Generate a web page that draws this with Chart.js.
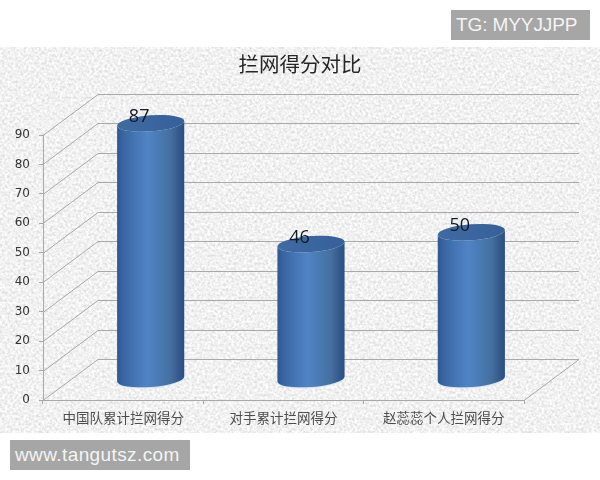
<!DOCTYPE html>
<html>
<head>
<meta charset="utf-8">
<script src="https://cdn.jsdelivr.net/npm/chart.js@4/dist/chart.umd.min.js"></script>
<style>
  html, body { margin: 0; padding: 0; background: #fff; }
  #page { position: relative; width: 600px; height: 480px; overflow: hidden; }
  #paper {
    position: absolute; left: 0; top: 47px; width: 600px; height: 386px;
    background-color: #e2e2e2;
    background-image: url("data:image/svg+xml,%3Csvg xmlns='http://www.w3.org/2000/svg' width='600' height='386'%3E%3Cfilter id='n' x='0' y='0' width='100%25' height='100%25'%3E%3CfeTurbulence type='fractalNoise' baseFrequency='0.38' numOctaves='3' seed='7'/%3E%3CfeColorMatrix values='0.5 0 0 0 0.63 0.5 0 0 0 0.63 0.5 0 0 0 0.63 0 0 0 0 1'/%3E%3C/filter%3E%3Crect width='600' height='386' filter='url(%23n)'/%3E%3C/svg%3E");
  }
  canvas { position: absolute; left: 0; top: 0; }
  .tag {
    position: absolute; background: #a6a6a6; color: #f4f4f4;
    font-family: "Liberation Sans", sans-serif; font-size: 19px; line-height: 30px; white-space: nowrap;
  }
</style>
</head>
<body>
<div id="page">
  <div id="paper"></div>
  <canvas id="chart" width="600" height="480"></canvas>
  <div class="tag" style="left:451px;top:10px;width:134px;height:30px;padding-left:5px;letter-spacing:-0.1px;">TG: MYYJJPP</div>
  <div class="tag" style="left:10px;top:440px;width:175px;height:30px;padding-left:5px;letter-spacing:0.4px;">www.tangutsz.com</div>
</div>
<script>
const categories = ["中国队累计拦网得分", "对手累计拦网得分", "赵蕊蕊个人拦网得分"];
const scores = [87, 46, 50];
const chartTitle = "拦网得分对比";

// depth of the fake 3d box, in pixels
const depthX = 55;
const depthY = 41;
const gridColor = "#a9a9a9";

// back wall, floor, slanted lines on the left side, and the title
const box3d = {
  id: "box3d",
  beforeDatasetsDraw(chart) {
    const { ctx, scales, chartArea } = chart;
    const yScale = scales.y;
    ctx.save();
    ctx.strokeStyle = gridColor;
    ctx.lineWidth = 1;
    yScale.ticks.forEach((tick, i) => {
      const y = Math.round(yScale.getPixelForTick(i)) + 0.5;
      ctx.beginPath();
      ctx.moveTo(chartArea.left, y);
      ctx.lineTo(chartArea.left + depthX, y - depthY);
      ctx.lineTo(chartArea.right + depthX, y - depthY);
      ctx.stroke();
    });
    const bottom = Math.round(chartArea.bottom) + 0.5;
    ctx.beginPath();
    ctx.moveTo(chartArea.right, bottom);
    ctx.lineTo(chartArea.right + depthX, bottom - depthY);
    ctx.stroke();

    // the title sits on the page centre, not the plot centre
    ctx.fillStyle = "#262626";
    ctx.font = '20.5px "Noto Sans CJK SC"';
    ctx.textAlign = "center";
    ctx.textBaseline = "middle";
    ctx.fillText(chartTitle, 300, 64);
    ctx.restore();
  },
};

function drawCylinder(ctx, bar, value) {
  const r = bar.width / 2;
  const ry = 8;
  const tilt = -0.075;
  const cx = bar.x + depthX / 2;
  const topY = bar.y - depthY / 2;
  const baseY = bar.base - depthY / 2;

  const side = ctx.createLinearGradient(cx - r, 0, cx + r, 0);
  side.addColorStop(0, "#2d5790");
  side.addColorStop(0.1, "#3a67a4");
  side.addColorStop(0.45, "#5084c6");
  side.addColorStop(0.8, "#44709f");
  side.addColorStop(0.92, "#34598c");
  side.addColorStop(1, "#2a4e7e");

  // light rim under the base
  ctx.fillStyle = "#d3e2f4";
  ctx.beginPath();
  ctx.ellipse(cx, baseY + 1, r, ry, tilt, 0, Math.PI * 2);
  ctx.fill();

  // body: lower half of base ellipse, then up to the top
  ctx.fillStyle = side;
  ctx.beginPath();
  ctx.ellipse(cx, baseY, r, ry, tilt, 0, Math.PI);
  ctx.ellipse(cx, topY, r, ry, tilt, Math.PI, 0, true);
  ctx.closePath();
  ctx.fill();

  // lid
  const lid = ctx.createLinearGradient(cx - r, topY, cx + r, topY);
  lid.addColorStop(0, "#3f6aa2");
  lid.addColorStop(1, "#36609a");
  ctx.fillStyle = lid;
  ctx.beginPath();
  ctx.ellipse(cx, topY, r, ry, tilt, 0, Math.PI * 2);
  ctx.fill();

  ctx.fillStyle = "#14181f";
  ctx.font = '18px "Open Sans", sans-serif';
  ctx.textAlign = "center";
  ctx.textBaseline = "middle";
  ctx.fillText(String(value), cx - 11.5, topY - 6.5);
}

const cylinders = {
  id: "cylinders",
  afterDatasetsDraw(chart) {
    const meta = chart.getDatasetMeta(0);
    meta.data.forEach((bar, i) => drawCylinder(chart.ctx, bar, scores[i]));
  },
};

new Chart(document.getElementById("chart").getContext("2d"), {
  type: "bar",
  data: {
    labels: categories,
    datasets: [
      {
        data: scores,
        backgroundColor: "rgba(0,0,0,0)",
        categoryPercentage: 1,
        barPercentage: 0.42,
      },
    ],
  },
  plugins: [box3d, cylinders],
  options: {
    responsive: false,
    animation: false,
    devicePixelRatio: 1,
    layout: { padding: { left: 0, right: 76, top: 135, bottom: 0 } },
    plugins: {
      legend: { display: false },
      tooltip: { enabled: false },
    },
    scales: {
      x: {
        afterFit(axis) { axis.height = 80; },
        grid: { color: gridColor, drawOnChartArea: false, tickLength: 4 },
        border: { color: gridColor },
        ticks: {
          color: "#4d4d4d",
          padding: 6,
          maxRotation: 0,
          autoSkip: false,
          font: { family: '"Noto Sans CJK SC"', size: 13.5 },
        },
      },
      y: {
        min: 0,
        max: 90,
        afterFit(axis) { axis.width = 43; },
        grid: { color: gridColor, drawOnChartArea: false, tickLength: 4 },
        border: { color: gridColor },
        ticks: {
          stepSize: 10,
          color: "#333333",
          padding: 9,
          font: { family: '"DejaVu Sans"', size: 12 },
        },
      },
    },
  },
});
</script>
</body>
</html>
